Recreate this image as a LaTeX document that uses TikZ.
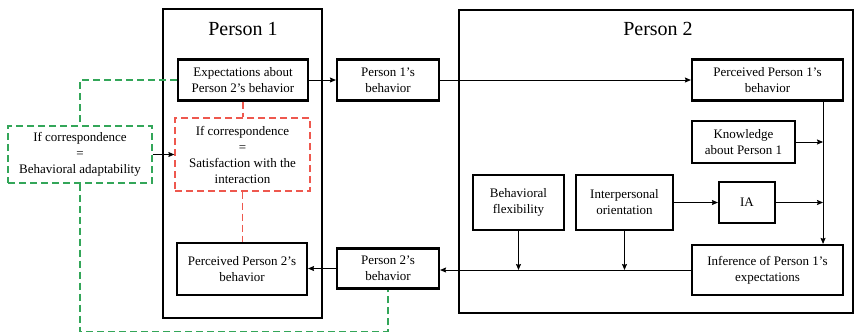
\documentclass[tikz,border=0pt]{standalone}
\usepackage{fontspec}
\setmainfont{Liberation Serif}
\usetikzlibrary{arrows.meta,calc,positioning}

\definecolor{dashgreen}{RGB}{51,166,89}
\definecolor{dashred}{RGB}{238,88,78}

\begin{document}
\begin{tikzpicture}[>={Stealth[length=6pt, width=5pt, inset=0.8pt]}, x=1pt, y=-1pt, line width=0.9pt]

    \tikzstyle{frame} = [draw=black, line width=2.2pt]
    \tikzstyle{title} = [font=\fontsize{20}{24}\selectfont]
    \tikzstyle{blk} = [rectangle, draw=black, line width=2.1pt, align=center, inner sep=0pt, font=\fontsize{13}{16}\selectfont]
    \tikzstyle{greendash} = [draw=dashgreen, line width=1.3pt, dash pattern=on 7pt off 4pt]
    \tikzstyle{reddash} = [draw=dashred, line width=1.3pt, dash pattern=on 7pt off 4pt]

    \useasboundingbox (0,0) rectangle (855,333);

    % the two persons
    \draw[frame] (163,9) rectangle (322,318);
    \draw[frame] (459,10) rectangle (853,313);
    \node (p1title) [title] at (243,29) {Person 1};
    \node (p2title) [title] at (658,29) {Person 2};

    \node (expect) [blk, minimum width=130pt, minimum height=41pt] at (243,80)    {Expectations about\\Person 2’s behavior};
    \node (p1beh)  [blk, minimum width=102pt, minimum height=41pt] at (388,80)    {Person 1’s\\behavior};
    \node (perc1)  [blk, minimum width=151pt, minimum height=41pt] at (767.5,80) {Perceived Person 1’s\\behavior};
    \node (know)   [blk, minimum width=103pt, minimum height=42pt] at (743.5,142) {Knowledge\\about Person 1};
    \node (flex)   [blk, minimum width=91pt, minimum height=55pt]  at (518.5,202.5) {Behavioral\\flexibility};
    \node (inter)  [blk, minimum width=97pt, minimum height=55pt]  at (624.5,202.5) {Interpersonal\\orientation};
    \node (ia)     [blk, minimum width=56pt, minimum height=41pt]  at (747,202.5) {IA};
    \node (infer)  [blk, minimum width=151pt, minimum height=50pt] at (767.5,270) {Inference of Person 1’s\\expectations};
    \node (p2beh)  [blk, minimum width=102pt, minimum height=40pt] at (388,268.5) {Person 2’s\\behavior};
    \node (perc2)  [blk, minimum width=130pt, minimum height=52pt] at (242,269) {Perceived Person 2’s\\behavior};

    \node (corr)  [blk, reddash, minimum width=135pt, minimum height=73pt]  at (242.5,154.5) {If correspondence\\=\\Satisfaction with the\\interaction};
    \node (adapt) [blk, greendash, minimum width=144pt, minimum height=57pt] at (80,154.5) {If correspondence\\=\\Behavioral adaptability};

    \coordinate (vtop) at ($(perc1.south east)+(-21,0)$);
    \coordinate (gbot) at (0,331.5);

    \draw[->] (expect) -- (p1beh);
    \draw[->] (p1beh) -- (perc1);
    \draw[->] (vtop) -- (vtop |- infer.north);
    \draw[->] (know.east) -- (know.east -| vtop);
    \draw[->] (inter) -- (ia);
    \draw[->] (ia.east) -- (ia.east -| vtop);
    \draw[->] (infer.west) -- (p2beh.east |- infer.west);
    \draw[->] (flex.south) -- (flex.south |- infer.west);
    \draw[->] (inter.south) -- (inter.south |- infer.west);
    \draw[->] (p2beh.west) -- (perc2.east |- p2beh.west);
    \draw[->] (adapt) -- (corr);

    \draw[reddash] (expect.south) -- (expect.south |- corr.north);
    \draw[reddash] (corr.south) -- (corr.south |- perc2.north);
    \draw[greendash] (expect.west) -| (adapt.north);
    \draw[greendash] (adapt.south) -- (adapt.south |- gbot) -| (p2beh.south);
\end{tikzpicture}
\end{document}
